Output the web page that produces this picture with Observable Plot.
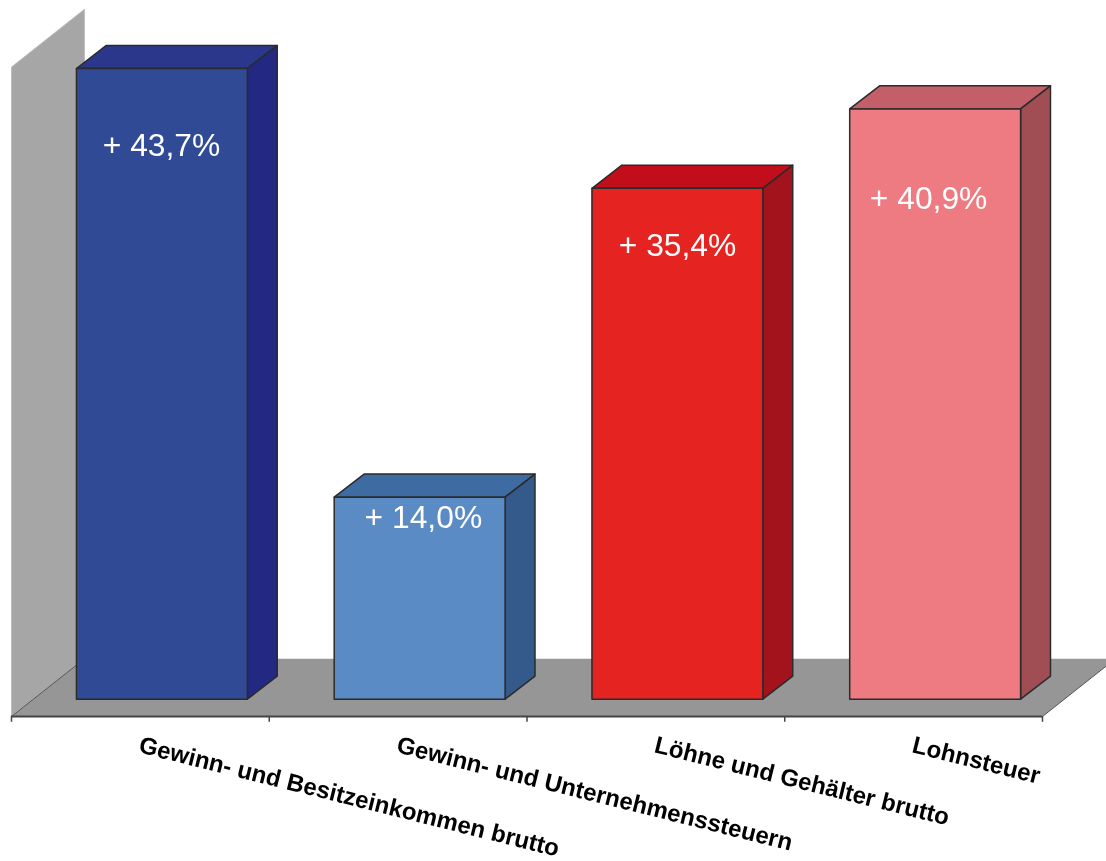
<!DOCTYPE html>
<html lang="de">
<head>
<meta charset="utf-8">
<script src="https://cdn.jsdelivr.net/npm/d3@7"></script>
<script src="https://cdn.jsdelivr.net/npm/@observablehq/plot@0.6"></script>
<style>
html,body{margin:0;padding:0;background:#fff}
svg{display:block;filter:blur(0.45px)}
</style>
</head>
<body>
<div id="chart"></div>
<script>
// Data
const categories = [
  "Gewinn- und Besitzeinkommen brutto",
  "Gewinn- und Unternehmenssteuern",
  "Löhne und Gehälter brutto",
  "Lohnsteuer"
];
const values = [43.7, 14.0, 35.4, 40.9];
const valueLabels = ["+ 43,7%", "+ 14,0%", "+ 35,4%", "+ 40,9%"];

// Styles
const frontColors = ["#304a96", "#5b8bc4", "#e52421", "#ee7a82"];
const topColors   = ["#2a378a", "#3f6ba3", "#c20e1a", "#c25f68"];
const sideColors  = ["#232883", "#335a8a", "#a3131b", "#a04e54"];

// Layout, in scale units (x: category slots, y: percent)
const barInset = 0.252, barWidth = 0.663;
const depthX = 0.116, depthY = 1.6;
const floorY = -1.2, wallX = 0.283, wallY = 4.0, wallTop = 43.8;
const labelOffsetX = [0.582, 0.598, 0.584, 0.558];
const labelOffsetY = [5.37, 1.42, 3.97, 6.22];
const nameX = 0.497, nameY = -3.15;

const poly = (id, fill, pts) => [...pts, pts[0]].map(([x, y]) => ({id, fill, x, y}));

const wall = poly("wall", "#a6a6a6", [
  [0, floorY], [0, wallTop], [wallX, wallTop + wallY], [wallX, floorY + wallY]
]);
const floor = poly("floor", "#969696", [
  [0, floorY], [categories.length, floorY],
  [categories.length + wallX, floorY + wallY], [wallX, floorY + wallY]
]);

const faces = values.flatMap((v, i) => {
  const l = i + barInset, r = l + barWidth;
  return [
    ...poly(`top${i}`, topColors[i], [[l, v], [r, v], [r + depthX, v + depthY], [l + depthX, v + depthY]]),
    ...poly(`side${i}`, sideColors[i], [[r, 0], [r + depthX, depthY], [r + depthX, v + depthY], [r, v]]),
    ...poly(`front${i}`, frontColors[i], [[l, 0], [r, 0], [r, v], [l, v]])
  ];
});

const table = categories.map((name, i) => ({
  name, i, value: values[i], label: valueLabels[i],
  lx: i + labelOffsetX[i], ly: values[i] - labelOffsetY[i]
}));

const chart = Plot.plot({
  width: 1106,
  height: 861,
  margin: 0,
  style: {background: "#fff", overflow: "hidden", fontFamily: "'Liberation Sans', Arial, sans-serif"},
  x: {type: "linear", domain: [0, categories.length], range: [11, 1042], axis: null},
  y: {type: "linear", domain: [0, 43.7], range: [698.7, 68], axis: null},
  marks: [
    Plot.line(wall, {x: "x", y: "y", z: "id", fill: "fill", stroke: "#bdbdbd", strokeWidth: 1, curve: "linear"}),
    Plot.line(floor, {x: "x", y: "y", z: "id", fill: "fill", stroke: "none", curve: "linear"}),
    Plot.line([[0, floorY], [wallX, floorY + wallY]], {x: "0", y: "1", stroke: "#555", strokeWidth: 1}),
    Plot.ruleY([floorY], {x1: 0, x2: categories.length, stroke: "#444", strokeWidth: 2}),
    Plot.line([[categories.length, floorY], [categories.length + wallX, floorY + wallY]], {x: "0", y: "1", stroke: "#555", strokeWidth: 1}),
    Plot.ruleX(d3.range(categories.length + 1), {x: d => d, y1: floorY, y2: floorY - 0.4, stroke: "#444", strokeWidth: 1.5}),
    Plot.line(faces, {x: "x", y: "y", z: "id", fill: "fill", stroke: "#2b2b2b", strokeWidth: 1.5, strokeLinejoin: "round", curve: "linear"}),
    Plot.text(table, {
      x: "lx", y: "ly", text: "label", fill: "#fff", fontSize: 31.8,
      fontFamily: "'Liberation Sans', Arial, sans-serif"
    }),
    Plot.text(table, {
      x: d => d.i + nameX, y: nameY, text: "name", rotate: 14, textAnchor: "start",
      fill: "#000", fontSize: 24, fontWeight: "bold",
      fontFamily: "'Liberation Sans', Arial, sans-serif"
    })
  ]
});
document.getElementById("chart").append(chart);
</script>
</body>
</html>
